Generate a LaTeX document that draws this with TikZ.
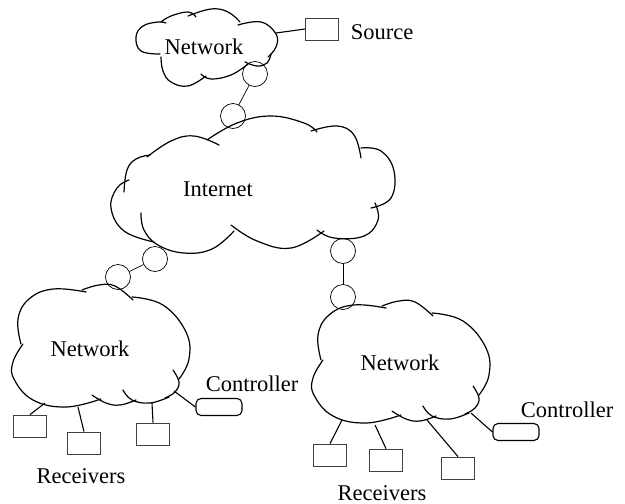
\documentclass[tikz,border=0pt]{standalone}
\usepackage{fontspec}
\setmainfont{Liberation Serif}

% one puff of a cloud outline
\newcommand\puff[1]{\draw[cloudline] plot[smooth,tension=0.7] coordinates {#1};}
% outline of a site network, centred on (0,0)
\newcommand\sitecloud{%
  \puff{(-80,-3) (-83,-28) (-72,-48) (-48,-58) (-15,-55)}
  \puff{(-19,-57) (-2,-62) (14,-61) (32,-47)}
  \puff{(31,-50) (62,-42) (85,-15) (88,12) (78,32)}
  \puff{(72,23) (78,35) (74,45) (64,51)}
  \puff{(22,43) (31,53) (49,56) (68,50)}
  \puff{(-9,48) (5,56) (19,58) (35,53)}
  \puff{(0,52) (-35,60) (-68,53) (-87,32) (-88,15) (-78,-3)}}

\begin{document}
\begin{tikzpicture}[x=1pt,y=-1pt,font=\fontsize{22.5}{25}\selectfont,
  cloudline/.style={line width=1.2pt,line cap=round},
  hop/.style={circle,draw,line width=0.7pt,minimum size=25pt,inner sep=0pt},
  host/.style={draw,line width=0.8pt,black!75,minimum width=33pt,minimum height=22pt,inner sep=0pt},
  ctrl/.style={draw,line width=1.1pt,rounded corners=5pt,minimum width=46pt,minimum height=17pt,inner sep=0pt},
  link/.style={line width=1.1pt}]
\useasboundingbox (0,0) rectangle (625,504);
% top network
\puff{(160,54) (141,51) (136,37) (143,26) (158,22) (166,23)}
\puff{(161,22) (171,16) (188,12) (196,17)}
\puff{(188,16) (211,9) (228,12) (240,22)}
\puff{(238,25) (261,22) (276,34) (276,47) (268,57)}
\puff{(271,54) (267,63) (257,66) (245,62)}
\puff{(248,64) (231,75) (211,79) (201,74)}
\puff{(206,76) (188,86) (171,82) (163,71) (161,57)}
\node (tnet1) at (204,47) {Network};
% internet
\puff{(124,192) (127,170) (136,159) (150,155)}
\puff{(147,157) (171,141) (194,136) (219,145)}
\puff{(207,140) (237,123) (271,116) (304,123) (317,132)}
\puff{(311,131) (337,126) (354,135) (361,158)}
\puff{(361,148) (381,151) (394,171) (391,198) (371,208)}
\puff{(375,203) (378,220) (364,236) (334,238) (317,230)}
\puff{(324,231) (291,248) (257,241) (231,225)}
\puff{(234,231) (212,249) (184,253) (158,245) (144,230) (141,213)}
\puff{(154,242) (124,231) (111,208) (117,188) (129,180)}
\node (tinet) at (218,189) {Internet};
% site networks
\begin{scope}[shift={(101,347)}]
  \sitecloud
\end{scope}
\begin{scope}[shift={(401,363)}]
  \sitecloud
\end{scope}
\node (tnetL) at (90,349) {Network};
\node (tnetR) at (400,363) {Network};
% points on the cloud outlines
\coordinate (net1-s) at (276,33);
\coordinate (netL-1) at (45,403);
\coordinate (netL-2) at (78,407);
\coordinate (netL-3) at (152,403);
\coordinate (netL-c) at (174,391);
\coordinate (netR-1) at (342,420);
\coordinate (netR-2) at (375,425);
\coordinate (netR-3) at (427,420);
\coordinate (netR-c) at (471,413);
% source
\node[host] (src) at (322,29) {};
\node (tsrc) at (382,32) {Source};
\draw[link] (net1-s) -- (src.west);
% hops
\node[hop] (ha) at (255,74) {};
\node[hop] (hb) at (233,116) {};
\node[hop] (hc) at (155,259) {};
\node[hop] (hd) at (118,277) {};
\node[hop] (he) at (343,251) {};
\node[hop] (hf) at (343,297) {};
\draw[line width=0.7pt] (ha) -- (hb);
\draw[line width=0.7pt] (hc) -- (hd);
\draw[line width=0.7pt] (he) -- (hf);
% left site
\node[host] (rL1) at (30,426) {};
\node[host] (rL2) at (84,443) {};
\node[host] (rL3) at (153,434) {};
\node[ctrl] (cL) at (219,407) {};
\draw[link] (netL-1) -- (rL1.north);
\draw[link] (netL-2) -- (rL2.north);
\draw[link] (netL-3) -- (rL3.north);
\draw[link] (netL-c) -- (cL.west);
\node (tcL) at (252,384) {Controller};
\node (trL) at (81,476) {Receivers};
% right site
\node[host] (rR1) at (330,455) {};
\node[host] (rR2) at (386,460) {};
\node[host] (rR3) at (458,468) {};
\node[ctrl] (cR) at (516,432) {};
\draw[link] (netR-1) -- (rR1.north);
\draw[link] (netR-2) -- (rR2.north);
\draw[link] (netR-3) -- (rR3.north);
\draw[link] (netR-c) -- (cR.west);
\node (tcR) at (567,410) {Controller};
\node[inner sep=1pt] (trR) at (382,493) {Receivers};
\end{tikzpicture}
\end{document}
